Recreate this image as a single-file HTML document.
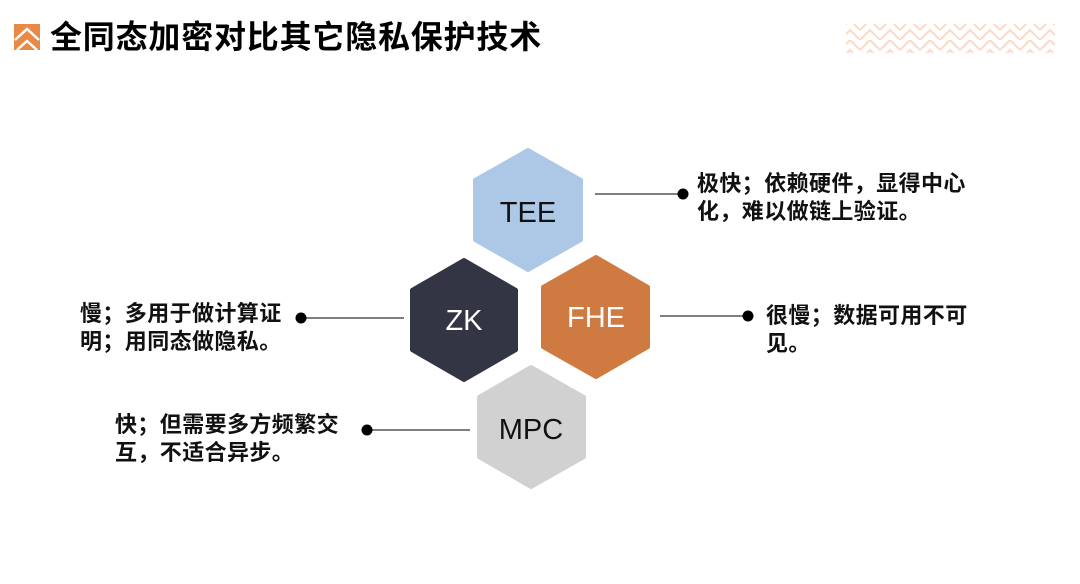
<!DOCTYPE html>
<html><head><meta charset="utf-8"><style>
body{margin:0;width:1080px;height:584px;background:#fff;position:relative;overflow:hidden;font-family:"Liberation Sans","Noto Sans CJK SC",sans-serif}
.t{position:absolute;font-weight:bold;color:#111;font-size:22px;line-height:28px;white-space:nowrap;letter-spacing:0.4px}
</style></head><body>
<svg width="1080" height="584" style="position:absolute;left:0;top:0">
<defs><pattern id="hb" width="20" height="20" patternUnits="userSpaceOnUse">
<path d="M0 20 L10 10 L20 20 M0 10 L10 0 L20 10" stroke="#fbd9c6" stroke-width="2" fill="none"/></pattern></defs>
<rect x="846" y="24" width="209" height="29" fill="url(#hb)"/>
<rect x="14" y="24" width="26" height="26" fill="#e88a45"/>
<path d="M15 40 L27 29 L39 40 M17 50 L27 41 L37 50" stroke="#fff" stroke-width="2.5" fill="none"/>
<g stroke-linejoin="round" stroke-width="4">
<polygon points="528,150 581,180 581,240 528,270 475,240 475,180" fill="#acc8e6" stroke="#acc8e6"/>
<polygon points="464,260 516,290 516,350 464,380 412,350 412,290" fill="#333545" stroke="#333545"/>
<polygon points="596,257 648,287 648,347 596,377 543,347 543,287" fill="#cf7a40" stroke="#cf7a40"/>
<polygon points="531,367 584,397 584,457 531,487 479,457 479,397" fill="#d1d1d1" stroke="#d1d1d1"/>
</g>
<g stroke="#333" stroke-width="1.2">
<line x1="595" y1="194" x2="683" y2="194"/>
<line x1="301" y1="318" x2="404" y2="318"/>
<line x1="660" y1="316" x2="748" y2="316"/>
<line x1="367" y1="430" x2="470" y2="430"/>
</g>
<g fill="#000"><circle cx="683" cy="194" r="5.5"/><circle cx="301" cy="318" r="5.5"/><circle cx="748" cy="316" r="5.5"/><circle cx="367" cy="430" r="5.5"/></g>
<g font-family="Liberation Sans,sans-serif" font-size="29" text-anchor="middle">
<text x="528" y="222" fill="#111">TEE</text>
<text x="464" y="330" fill="#fff">ZK</text>
<text x="596" y="327" fill="#fff">FHE</text>
<text x="531" y="439" fill="#111">MPC</text>
</g>
</svg>
<div class="t" style="left:50px;top:17px;font-size:32px;line-height:40px;letter-spacing:0.8px;color:#000">全同态加密对比其它隐私保护技术</div>
<div class="t" style="left:697px;top:170px">极快；依赖硬件，显得中心<br>化，难以做链上验证。</div>
<div class="t" style="left:80px;top:300px">慢；多用于做计算证<br>明；用同态做隐私。</div>
<div class="t" style="left:766px;top:302px">很慢；数据可用不可<br>见。</div>
<div class="t" style="left:115px;top:411px">快；但需要多方频繁交<br>互，不适合异步。</div>
</body></html>
